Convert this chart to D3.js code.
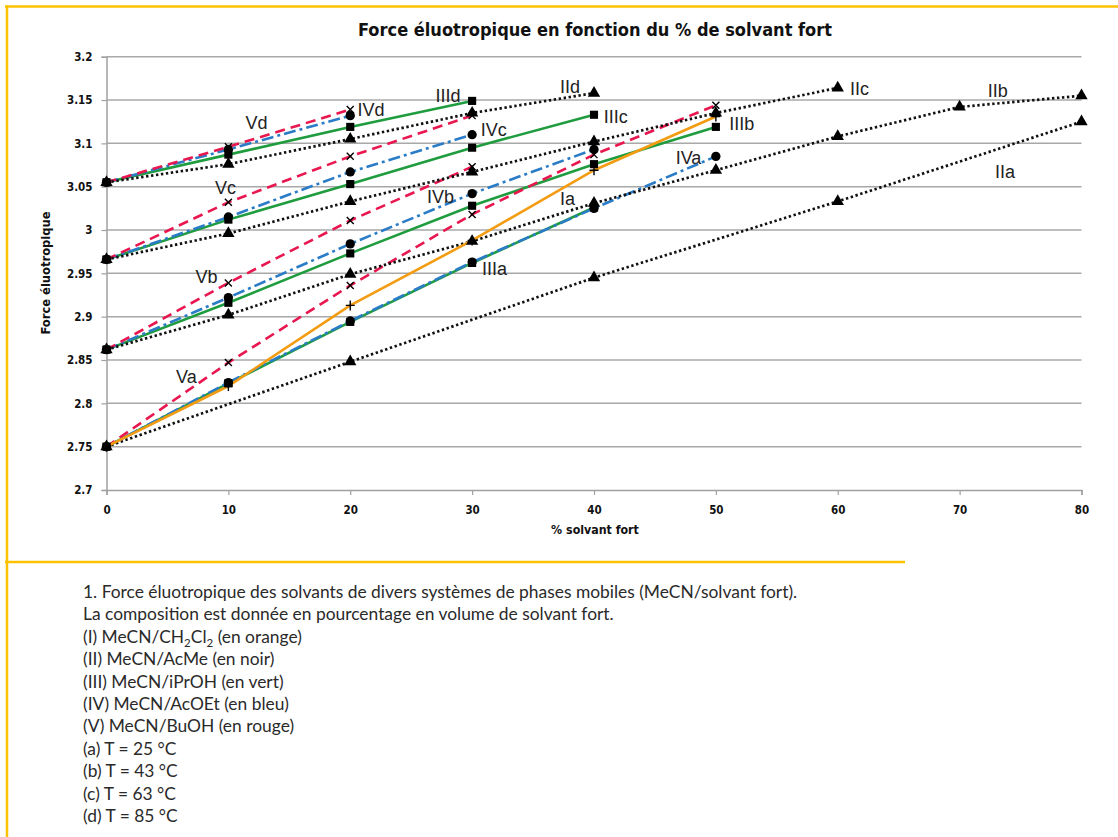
<!DOCTYPE html>
<html>
<head>
<meta charset="utf-8">
<script src="https://cdn.jsdelivr.net/npm/d3@7"></script>
<style>
  html, body { margin: 0; padding: 0; background: #fff; }
  svg { display: block; }
</style>
</head>
<body>
<svg id="chart" width="1118" height="837"></svg>
<script>
// % solvant fort (x values)
const pct = [0, 10, 20, 30, 40, 50, 60, 70, 80];
const pctIIa = [0, 20, 40, 60, 80];

// Force éluotropique, read per curve
const Ia = [2.750, 2.820, 2.913, 2.988, 3.069, 3.131];
const IIa = [2.750, 2.848, 2.945, 3.033, 3.125];
const IIb = [2.862, 2.902, 2.949, 2.987, 3.031, 3.069, 3.108, 3.142, 3.155];
const IIc = [2.966, 2.996, 3.033, 3.067, 3.102, 3.135, 3.164];
const IId = [3.055, 3.076, 3.105, 3.135, 3.158];
const IIIa = [2.750, 2.823, 2.894, 2.962, 3.026];
const IIIb = [2.862, 2.916, 2.973, 3.028, 3.076, 3.119];
const IIIc = [2.966, 3.012, 3.053, 3.095, 3.133];
const IIId = [3.055, 3.087, 3.119, 3.149];
const IVa = [2.750, 2.824, 2.895, 2.963, 3.025, 3.085];
const IVb = [2.862, 2.922, 2.984, 3.042, 3.093];
const IVc = [2.966, 3.015, 3.067, 3.110];
const IVd = [3.055, 3.093, 3.132];
const Va = [2.750, 2.847, 2.936, 3.018, 3.087, 3.144];
const Vb = [2.862, 2.939, 3.011, 3.073];
const Vc = [2.966, 3.032, 3.085, 3.132];
const Vd = [3.055, 3.096, 3.139];

// axis ticks
const xTicks = [0, 10, 20, 30, 40, 50, 60, 70, 80];
const yTicks = [2.7, 2.75, 2.8, 2.85, 2.9, 2.95, 3, 3.05, 3.1, 3.15, 3.2];

// curve labels, in data coordinates (left edge, baseline)
const labelNames = ["Ia", "IIa", "IIb", "IIc", "IId", "IIIa", "IIIb", "IIIc", "IIId",
  "IVa", "IVb", "IVc", "IVd", "Va", "Vb", "Vc", "Vd"];
const labelX = [37.2, 72.9, 72.3, 61.0, 37.2, 30.8, 51.1, 40.8, 27.0,
  46.7, 26.3, 30.7, 20.6, 5.7, 7.3, 8.9, 11.4];
const labelY = [3.029, 3.060, 3.154, 3.156, 3.158, 2.948, 3.115, 3.124, 3.148,
  3.076, 3.031, 3.108, 3.131, 2.824, 2.939, 3.041, 3.116];

const captionLines = [
  "1. Force éluotropique des solvants de divers systèmes de phases mobiles (MeCN/solvant fort).",
  "La composition est donnée en pourcentage en volume de solvant fort.",
  "(I) MeCN/CH_2Cl_2 (en orange)",
  "(II) MeCN/AcMe (en noir)",
  "(III) MeCN/iPrOH (en vert)",
  "(IV) MeCN/AcOEt (en bleu)",
  "(V) MeCN/BuOH (en rouge)",
  "(a) T = 25 °C",
  "(b) T = 43 °C",
  "(c) T = 63 °C",
  "(d) T = 85 °C",
];

// line style per solvent system
const systems = {
  I:   { color: "#f39c12", dash: null,        marker: "plus" },
  II:  { color: "#111111", dash: "2.4,2.6",   marker: "triangle" },
  III: { color: "#1e9c3e", dash: null,        marker: "square" },
  IV:  { color: "#2b7cc7", dash: "12,4,3,4",  marker: "circle" },
  V:   { color: "#e8174f", dash: "10,6",      marker: "cross" },
};

// drawing order: green, blue, red, black, orange
const series = [
  { sys: "III", xs: pct, ys: IIIa }, { sys: "III", xs: pct, ys: IIIb },
  { sys: "III", xs: pct, ys: IIIc }, { sys: "III", xs: pct, ys: IIId },
  { sys: "IV", xs: pct, ys: IVa }, { sys: "IV", xs: pct, ys: IVb },
  { sys: "IV", xs: pct, ys: IVc }, { sys: "IV", xs: pct, ys: IVd },
  { sys: "V", xs: pct, ys: Va }, { sys: "V", xs: pct, ys: Vb },
  { sys: "V", xs: pct, ys: Vc }, { sys: "V", xs: pct, ys: Vd },
  { sys: "II", xs: pctIIa, ys: IIa }, { sys: "II", xs: pct, ys: IIb },
  { sys: "II", xs: pct, ys: IIc }, { sys: "II", xs: pct, ys: IId },
  { sys: "I", xs: pct, ys: Ia },
].map((s) => ({ ...s, points: s.ys.map((y, i) => [s.xs[i], y]) }));

const svg = d3.select("#chart");
const plot = { left: 106.5, right: 1081.5, top: 56.7, bottom: 490 };

const x = d3.scaleLinear().domain([0, 80]).range([plot.left, plot.right]);
const y = d3.scaleLinear().domain([2.7, 3.2]).range([plot.bottom, plot.top]);

// yellow frame
const frame = svg.append("g").attr("stroke", "#fcc200").attr("stroke-width", 2.5);
frame.append("line").attr("x1", 5).attr("x2", 1118).attr("y1", 6.5).attr("y2", 6.5);
frame.append("line").attr("x1", 7).attr("x2", 7).attr("y1", 5.5).attr("y2", 837);
frame.append("line").attr("x1", 5).attr("x2", 905).attr("y1", 562).attr("y2", 562);

// title
svg.append("text")
  .attr("x", 595)
  .attr("y", 36)
  .attr("text-anchor", "middle")
  .attr("font-family", "'DejaVu Sans Condensed', 'DejaVu Sans', sans-serif")
  .attr("font-stretch", "condensed")
  .attr("font-weight", "bold")
  .attr("font-size", "18px")
  .attr("fill", "#111")
  .attr("textLength", 474)
  .attr("lengthAdjust", "spacingAndGlyphs")
  .text("Force éluotropique en fonction du % de solvant fort");

// horizontal grid lines
svg.append("g")
  .selectAll("line")
  .data(yTicks.slice(1))
  .enter()
  .append("line")
  .attr("x1", plot.left)
  .attr("x2", plot.right)
  .attr("y1", (d) => y(d))
  .attr("y2", (d) => y(d))
  .attr("stroke", "#a8a8a8")
  .attr("stroke-width", 1.5);

// axes
const yAxis = d3.axisLeft(y).tickValues(yTicks).tickSize(5).tickPadding(9)
  .tickFormat((d) => d3.format("")(+d.toFixed(2)));
const xAxis = d3.axisBottom(x).tickValues(xTicks).tickSize(5).tickPadding(11);

const axisFont = "'DejaVu Sans Condensed', 'DejaVu Sans', sans-serif";

const gy = svg.append("g").attr("transform", `translate(${plot.left},0)`).call(yAxis);
const gx = svg.append("g").attr("transform", `translate(0,${plot.bottom})`).call(xAxis);
[gx, gy].forEach((g) => {
  g.select(".domain").attr("stroke", "#a0a0a0").attr("stroke-width", 1.5);
  g.selectAll(".tick line").attr("stroke", "#a0a0a0").attr("stroke-width", 1.2);
  g.selectAll(".tick text")
    .attr("font-family", axisFont)
    .attr("font-stretch", "condensed")
    .attr("font-weight", "bold")
    .attr("font-size", "11.5px")
    .attr("fill", "#111");
});

// axis titles
svg.append("text")
  .attr("x", 595)
  .attr("y", 534)
  .attr("text-anchor", "middle")
  .attr("font-family", axisFont)
  .attr("font-stretch", "condensed")
  .attr("font-weight", "bold")
  .attr("font-size", "12.3px")
  .attr("fill", "#111")
  .text("% solvant fort");

svg.append("text")
  .attr("transform", "translate(50,273) rotate(-90)")
  .attr("text-anchor", "middle")
  .attr("font-family", axisFont)
  .attr("font-stretch", "condensed")
  .attr("font-weight", "bold")
  .attr("font-size", "12.8px")
  .attr("fill", "#111")
  .text("Force éluotropique");

// curves
const line = d3.line().x((d) => x(d[0])).y((d) => y(d[1]));

svg.append("g")
  .selectAll("path")
  .data(series)
  .enter()
  .append("path")
  .attr("d", (d) => line(d.points))
  .attr("fill", "none")
  .attr("stroke", (d) => systems[d.sys].color)
  .attr("stroke-width", (d) => (d.sys === "II" ? 2.7 : 2.6))
  .attr("stroke-dasharray", (d) => systems[d.sys].dash);

// markers
const symbolPath = {
  triangle: d3.symbol().type(d3.symbolTriangle).size(66)(),
  square: d3.symbol().type(d3.symbolSquare).size(66)(),
  circle: d3.symbol().type(d3.symbolCircle).size(68)(),
  cross: "M-3.5,-3.5L3.5,3.5M-3.5,3.5L3.5,-3.5",
  plus: "M-4.5,0L4.5,0M0,-5L0,5",
};

const markers = series.flatMap((s) =>
  s.points.map((p) => ({ p, kind: systems[s.sys].marker })));

svg.append("g")
  .selectAll("path")
  .data(markers)
  .enter()
  .append("path")
  .attr("transform", (d) => `translate(${x(d.p[0])},${y(d.p[1])})`)
  .attr("d", (d) => symbolPath[d.kind])
  .attr("fill", (d) => (d.kind === "cross" || d.kind === "plus" ? "none" : "#000"))
  .attr("stroke", "#000")
  .attr("stroke-width", (d) => (d.kind === "cross" || d.kind === "plus" ? 1.4 : 0));

// curve labels
svg.append("g")
  .selectAll("text")
  .data(labelNames)
  .enter()
  .append("text")
  .attr("x", (d, i) => x(labelX[i]))
  .attr("y", (d, i) => y(labelY[i]))
  .attr("font-family", "'Liberation Sans', Arial, sans-serif")
  .attr("font-size", "18px")
  .attr("fill", "#222")
  .text((d) => d);

// caption below the chart, "_2" marks a subscript
const caption = svg.append("g")
  .attr("font-family", "Lato, 'Noto Sans', sans-serif")
  .attr("font-size", "17.4px")
  .attr("fill", "#2a2a2a");

captionLines.forEach((txt, i) => {
  const t = caption.append("text").attr("x", 83).attr("y", 598 + i * 22.4);
  txt.split(/_(\d)/).forEach((part, j) => {
    if (!part) return;
    if (j % 2 === 1) {
      t.append("tspan").attr("font-size", "11.5px").attr("dy", 4).text(part);
    } else {
      const ts = t.append("tspan").text(part);
      if (j > 0) ts.attr("dy", -4);
    }
  });
});
</script>
</body>
</html>
